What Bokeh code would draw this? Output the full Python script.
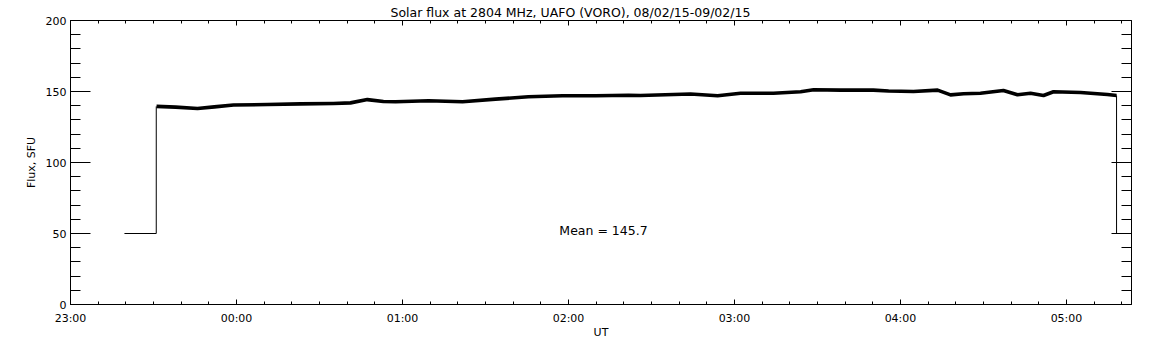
from bokeh.plotting import figure
from bokeh.models import LinearAxis, FixedTicker, Label, Range1d
from bokeh.embed import file_html
from bokeh.resources import INLINE

# ---- data (time in minutes after 23:00 UT) ----
UT_TICKS = [0, 60, 120, 180, 240, 300, 360]
UT_TICK_LABELS = ["23:00", "00:00", "01:00", "02:00", "03:00", "04:00", "05:00"]
UT_MINOR = [m for m in range(0, 390, 10)]
FLUX_TICKS = [0, 50, 100, 150, 200]
FLUX_MINOR = [v for v in range(0, 210, 10)]

time_min = [31.1, 38.0, 45.9, 52.0, 58.9, 71.2, 83.1, 95.0, 101.2, 107.3, 113.1, 117.5,
            129.4, 141.7, 153.6, 165.5, 177.8, 189.8, 201.7, 206.0, 218.0, 224.1,
            233.9, 242.2, 254.1, 263.9, 268.6, 278.3, 290.2, 295.7, 304.7, 313.4,
            318.1, 322.8, 328.9, 337.2, 342.3, 347.0, 351.7, 355.3, 365.1, 374.8, 378.1]
flux = [139.5, 139.0, 138.0, 139.2, 140.5, 140.8, 141.3, 141.6, 142.0, 144.3, 143.0, 142.8,
        143.5, 142.8, 144.6, 146.3, 147.0, 147.0, 147.4, 147.2, 147.9, 148.2,
        147.0, 148.8, 148.8, 149.8, 151.2, 151.0, 151.0, 150.4, 150.0, 151.0,
        147.6, 148.4, 148.8, 150.7, 147.7, 148.8, 147.2, 149.8, 149.3, 147.9, 147.2]

start_time = [19.5, 31.0, 31.0]
start_flux = [50, 50, 139.5]
end_time = [378.1, 378.1]
end_flux = [147.2, 50]

MEAN_TEXT = "Mean =  145.7"
TITLE = "Solar flux at 2804 MHz, UAFO (VORO),  08/02/15-09/02/15"

FONT = "DejaVu Sans"

p = figure(width=1152, height=345, output_backend="svg", toolbar_location=None,
           x_range=Range1d(0, 383.5), y_range=Range1d(0, 200),
           min_border_left=70, min_border_right=21, min_border_top=20, min_border_bottom=41,
           background_fill_color="white", border_fill_color="white")
p.outline_line_color = None
p.grid.visible = False

p.title.text = TITLE
p.title.align = "left"
p.title.offset = 320
p.title.standoff = 2
p.title.text_font = FONT
p.title.text_font_size = "12.5px"
p.title.text_font_style = "normal"
p.title.text_color = "black"

# data
p.line(start_time, start_flux, line_color="black", line_width=1)
p.line(end_time, end_flux, line_color="black", line_width=1)
p.line(time_min, flux, line_color="black", line_width=3.6, line_join="round")


def style_axis(ax, major_in, minor_in, show_labels):
    ax.axis_line_color = "black"
    ax.axis_line_width = 1
    ax.major_tick_in = major_in
    ax.major_tick_out = 0
    ax.minor_tick_in = minor_in
    ax.minor_tick_out = 0
    ax.major_tick_line_color = "black"
    ax.minor_tick_line_color = "black"
    ax.major_label_text_font = FONT
    ax.major_label_text_font_size = "11px"
    ax.major_label_text_color = "black"
    if not show_labels:
        ax.major_label_text_alpha = 0
        ax.major_label_text_font_size = "1px"
        ax.major_label_standoff = 0
    ax.axis_label_text_font = FONT
    ax.axis_label_text_font_style = "normal"
    ax.axis_label_text_font_size = "11px"
    ax.axis_label_text_color = "black"


xt = FixedTicker(ticks=UT_TICKS, minor_ticks=UT_MINOR)
yt = FixedTicker(ticks=FLUX_TICKS, minor_ticks=FLUX_MINOR)

xb = p.xaxis[0]
xb.ticker = xt
xb.major_label_overrides = {t: l for t, l in zip(UT_TICKS, UT_TICK_LABELS)}
style_axis(xb, 5, 3, True)
xb.major_label_standoff = 7
xb.axis_label = "UT"
xb.axis_label_standoff = -2

yl = p.yaxis[0]
yl.ticker = yt
style_axis(yl, 20, 10, True)
yl.major_label_standoff = 4
yl.axis_label = "Flux, SFU"
yl.axis_label_standoff = 5

xtop = LinearAxis(ticker=FixedTicker(ticks=UT_TICKS, minor_ticks=UT_MINOR))
style_axis(xtop, 5, 3, False)
p.add_layout(xtop, "above")

yr = LinearAxis(ticker=FixedTicker(ticks=FLUX_TICKS, minor_ticks=FLUX_MINOR))
style_axis(yr, 20, 10, False)
p.add_layout(yr, "right")

p.add_layout(Label(x=176.7, y=52, text=MEAN_TEXT, text_font=FONT, text_font_size="12.5px",
                   text_color="black", text_align="left", text_baseline="middle"))

open("out.html", "w").write(file_html(p, INLINE))
